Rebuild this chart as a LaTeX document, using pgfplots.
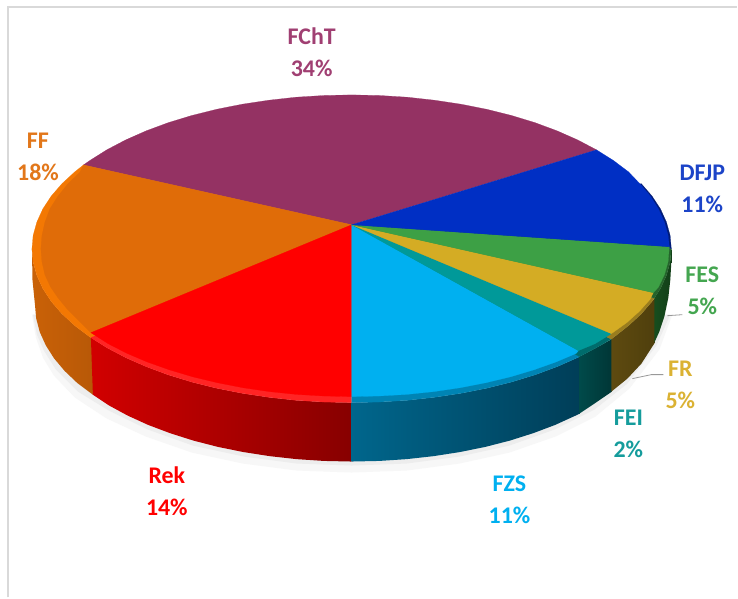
\documentclass[border=0pt]{standalone}
\usepackage{pgfplots}
\pgfplotsset{compat=1.18}
\usepackage{fontspec}
\setmainfont{Carlito}
\definecolor{cT}{HTML}{943263}
\definecolor{cF}{HTML}{E06C08}
\definecolor{cB}{HTML}{002FC4}
\definecolor{cG}{HTML}{3DA045}
\definecolor{cY}{HTML}{D4AC24}
\definecolor{cE}{HTML}{009999}
\definecolor{cZ}{HTML}{00B0F0}
\definecolor{cR}{HTML}{FF0000}
\definecolor{tT}{HTML}{A03F72}
\definecolor{tF}{HTML}{E2771A}
\definecolor{tB}{HTML}{1C44C8}
\definecolor{tG}{HTML}{44A650}
\definecolor{tY}{HTML}{DBB233}
\definecolor{tE}{HTML}{159C9C}
\tikzset{
  sl/.style={font=\bfseries\fontsize{24}{28}\selectfont,inner sep=0pt},
  face/.style={draw=#1,fill=#1,line width=0.2pt,line join=round}
}
\begin{document}
\begin{tikzpicture}
\begin{axis}[scale only axis,width=738bp,height=598bp,xmin=0,xmax=738,ymin=0,ymax=598,y dir=reverse,
  axis lines=none,clip=false,no markers,every axis plot/.append style={forget plot}]
% background
\addplot[draw=none,fill=white] coordinates {(0,0)(738,0)(738,598)(0,598)} --cycle;
% frame
\addplot[draw=black!15,line width=1.5pt] coordinates {(8,598)(8,7)(738,7)};
% shadow
\addplot[draw=none,fill=black!3] coordinates {(32,315)(36,338)(43,358)(54,376)(75,398)(107,419)(146,437)(192,453)(243,464)(297,471)(352,473)(407,471)(460,464)(510,453)(556,437)(596,417)(630,389)(660,350)(673,315)};
\addplot[draw=none,fill=black!7] coordinates {(33,315)(37,335)(44,351)(56,370)(78,392)(109,411)(148,430)(193,446)(244,457)(297,464)(352,466)(407,464)(460,457)(510,446)(555,430)(595,410)(628,384)(657,346)(671,315)};
% sides
\addplot[left color=cF!90!black,right color=cF!82!black,draw=none] coordinates {(32,249)(33.2,262.4)(36.9,275.7)(42.9,288.9)(51.3,301.7)(62,314.1)(74.9,326)(89.9,337.3)(93.5,339)(93.5,395.5)(77.5,383.5)(64.7,371.3)(54.1,358.7)(45.8,345.6)(39.8,332.3)(36.2,318.7)(35,305)(32.5,280)} --cycle;
\addplot[left color=red!82!black,right color=red!53!black,draw=none] coordinates {(91,338)(106.9,348)(125.7,357.9)(146.3,367)(168.4,375.2)(192,382.4)(216.8,388.6)(242.6,393.7)(269.2,397.7)(296.4,400.7)(324.1,402.4)(352,403)(352,462)(324.4,461.4)(297,459.6)(270,456.6)(243.6,452.5)(218,447.3)(193.5,441)(170.2,433.6)(148.2,425.3)(127.8,416)(109.2,405.9)(93,395.1)} --cycle;
\definecolor{zl}{HTML}{00668C}\definecolor{zr}{HTML}{003E58}
\addplot[left color=zl,right color=zr,draw=none] coordinates {(352,403)(379.9,402.4)(407.6,400.7)(434.8,397.7)(461.4,393.7)(487.2,388.6)(512,382.4)(535.6,375.2)(557.7,367)(578.3,357.9)(580.5,357)(580.5,414)(576.2,416)(555.8,425.3)(533.8,433.6)(510.5,441)(486,447.3)(460.4,452.5)(434,456.6)(407,459.6)(379.6,461.4)(352,462)} --cycle;
\definecolor{el}{HTML}{004A4A}\definecolor{er}{HTML}{003636}
\addplot[left color=el,right color=er,draw=none] coordinates {(580,357)(597.1,348)(612.5,339.4)(612.5,392)(595,404)(580,414)} --cycle;
\definecolor{yl}{HTML}{5E4A10}\definecolor{yr}{HTML}{4F3F0C}
\addplot[left color=yl,right color=yr,draw=none] coordinates {(612,339.4)(629.1,326)(642,314.1)(652.7,301.7)(655.5,298.4)(655.5,343)(642,364)(628,379)(612,392)} --cycle;
\definecolor{gl}{HTML}{174D1E}\definecolor{gr}{HTML}{123F18}
\addplot[left color=gl,right color=gr,draw=none] coordinates {(655,298.4)(661.1,288.9)(667.1,275.7)(670.8,262.4)(672,249)(672,262)(671,280)(669,298)(665,317)(660,332)(655,343)} --cycle;
% bevel bands (outer outline of the wedges)
\addplot[face=orange!60!cF] coordinates {(352,225)(83.6,165.1)(74.9,172)(62,183.9)(51.3,196.3)(42.9,209.1)(36.9,222.3)(33.2,235.6)(32,249)(33.2,262.4)(36.9,275.7)(42.9,288.9)(51.3,301.7)(62,314.1)(74.9,326)(89.9,337.3)(91,338)} --cycle;
\definecolor{bR}{HTML}{FF2424}
\addplot[face=bR] coordinates {(352,225)(91,338)(106.9,348)(125.7,357.9)(146.3,367)(168.4,375.2)(192,382.4)(216.8,388.6)(242.6,393.7)(269.2,397.7)(296.4,400.7)(324.1,402.4)(352,403)} --cycle;
\definecolor{bZ}{HTML}{0084B4}
\addplot[face=bZ] coordinates {(352,225)(352,403)(379.9,402.4)(407.6,400.7)(434.8,397.7)(461.4,393.7)(487.2,388.6)(512,382.4)(535.6,375.2)(557.7,367)(578.3,357.9)(580,357)} --cycle;
\definecolor{bE}{HTML}{006C6C}
\addplot[face=bE] coordinates {(352,225)(580,357)(597.1,348)(612,339.4)} --cycle;
\definecolor{bY}{HTML}{9A7D1E}
\addplot[face=bY] coordinates {(352,225)(612,339.4)(629.1,326)(642,314.1)(652.7,301.7)(655,298.4)} --cycle;
\definecolor{bG}{HTML}{25642C}
\addplot[face=bG] coordinates {(352,225)(655,298.4)(661.1,288.9)(667.1,275.7)(670.8,262.4)(672,249)} --cycle;
\definecolor{bB}{HTML}{001C78}
\addplot[face=bB] coordinates {(352,225)(672,249)(670.8,235.6)(667.1,222.3)(661.1,209.1)(652.7,196.3)(642,183.9)} --cycle;
% faces
\addplot[face=cT] coordinates {(352,225)(597.1,150)(578.3,140.1)(557.7,131)(535.6,122.8)(512,115.6)(487.2,109.4)(461.4,104.3)(434.8,100.3)(407.6,97.3)(379.9,95.6)(352,95)(324.1,95.6)(296.4,97.3)(269.2,100.3)(242.6,104.3)(216.8,109.4)(192,115.6)(168.4,122.8)(146.3,131)(125.7,140.1)(106.9,150)(89.9,160.7)(83.6,165.1)} --cycle;
\addplot[face=cF] coordinates {(352,225)(83.6,165.1)(80,172.5)(68,184)(58,196.5)(50,209)(45,222.5)(42,236)(41,249)(42,262)(45,275)(50.5,287)(58,298)(67,309)(78,320)(91,333)} --cycle;
\addplot[face=cR] coordinates {(352,225)(91,333)(108.4,344.1)(127.1,353.7)(147.6,362.4)(169.6,370.2)(193,377.2)(217.6,383.1)(243.2,388.1)(269.7,392)(296.8,394.8)(324.3,396.4)(352,397)} --cycle;
\addplot[face=cZ] coordinates {(352,225)(352,397)(379.7,396.4)(407.2,394.8)(434.3,392)(460.8,388.1)(486.4,383.1)(511,377.2)(534.4,370.2)(556.4,362.4)(576.9,353.7)(579,351)} --cycle;
\addplot[face=cE] coordinates {(352,225)(579,351)(595.6,344.1)(612,334)} --cycle;
\addplot[face=cY] coordinates {(352,225)(612,334)(627.4,323)(640.2,311.5)(650.8,299.6)(654,293)} --cycle;
\addplot[face=cG] coordinates {(352,225)(654,293)(659.2,287.3)(665.2,274.7)(668.8,261.9)(670,247)} --cycle;
\addplot[face=cB] coordinates {(352,225)(670,247)(668.8,235.6)(665.1,222.3)(659.1,209.1)(651,196.3)(640.5,183.9)(629.1,172)(614.1,160.7)(597.1,150)} --cycle;
% leader lines
\addplot[draw=black!40,line width=0.8pt] coordinates {(668,316)(683,315)};
\addplot[draw=black!40,line width=0.8pt] coordinates {(633,379)(652,375)(664,375)};
% labels
\node[sl,text=tT] at (axis cs:312,36) {FChT};
\node[sl,text=tT] at (axis cs:312,68) {34\%};
\node[sl,text=tF] at (axis cs:38,141) {FF};
\node[sl,text=tF] at (axis cs:38,173) {18\%};
\node[sl,text=tB] at (axis cs:703,173) {DFJP};
\node[sl,text=tB] at (axis cs:703,205) {11\%};
\node[sl,text=tG] at (axis cs:703,275) {FES};
\node[sl,text=tG] at (axis cs:703,307) {5\%};
\node[sl,text=tY] at (axis cs:681,369) {FR};
\node[sl,text=tY] at (axis cs:681,401) {5\%};
\node[sl,text=tE] at (axis cs:629,418) {FEI};
\node[sl,text=tE] at (axis cs:629,450) {2\%};
\node[sl,text=cZ] at (axis cs:510,484) {FZS};
\node[sl,text=cZ] at (axis cs:510,516) {11\%};
\node[sl,text=cR] at (axis cs:167,476) {Rek};
\node[sl,text=cR] at (axis cs:167,508) {14\%};
\end{axis}
\end{tikzpicture}
\end{document}
